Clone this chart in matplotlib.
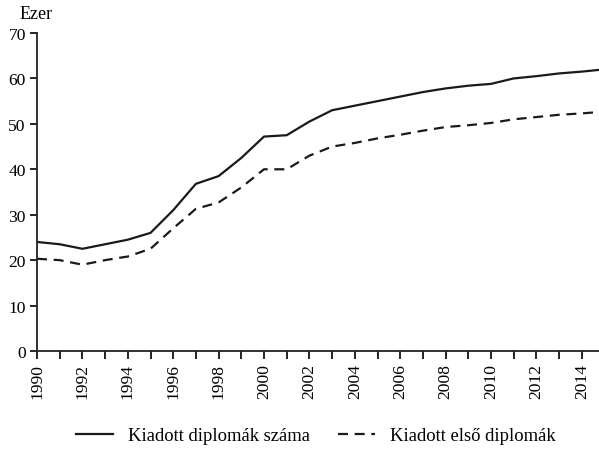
import matplotlib
matplotlib.use("Agg")
import matplotlib.pyplot as plt
from matplotlib.ticker import MultipleLocator

plt.rcParams['font.family'] = ['Liberation Serif', 'DejaVu Serif']
plt.rcParams['font.size'] = 13

years = list(range(1990, 2016))
diplomas_total = [24.0, 23.5, 22.5, 23.5, 24.5, 26.0, 31.0, 36.8, 38.5, 42.5,
                  47.2, 47.5, 50.5, 53.0, 54.0, 55.0, 56.0, 57.0, 57.8, 58.4,
                  58.8, 60.0, 60.5, 61.1, 61.5, 62.0]
diplomas_first = [20.3, 20.0, 19.0, 20.0, 20.8, 22.5, 27.0, 31.3, 32.7, 36.0,
                  40.0, 40.0, 43.0, 45.0, 45.8, 46.8, 47.6, 48.5, 49.3, 49.7,
                  50.2, 51.0, 51.5, 52.0, 52.3, 52.7]
labels = ['Kiadott diplomák száma', 'Kiadott első diplomák']

fig = plt.figure(figsize=(5.99, 4.52), dpi=100)
ax = fig.add_axes([37 / 599, 1 - 352 / 452, 1 - 37 / 599, (352 - 34) / 452])

ax.plot(years, diplomas_total, color='#1a1a1a', lw=1.6, label=labels[0])
ax.plot(years, diplomas_first, color='#1a1a1a', lw=1.6, ls=(0, (4.5, 3)), label=labels[1])

ax.set_xlim(1990, 1990 + (599 - 37) / 22.7)
ax.set_ylim(0, 70)
ax.xaxis.set_major_locator(MultipleLocator(2))
ax.xaxis.set_minor_locator(MultipleLocator(1))
ax.yaxis.set_major_locator(MultipleLocator(10))
ax.tick_params(axis='x', which='both', direction='out', length=6, width=1.2,
               rotation=90, pad=3, labelsize=12.6)
ax.tick_params(axis='y', direction='out', length=5, width=1.2, pad=3, labelsize=12.6)
for side in ['top', 'right']:
    ax.spines[side].set_visible(False)
for side in ['left', 'bottom']:
    ax.spines[side].set_linewidth(1.3)
    ax.spines[side].set_color('#222222')

fig.text(20 / 599, 1 - 19 / 452, 'Ezer', ha='left', va='baseline')

fig.legend(loc='center', bbox_to_anchor=(0.527, 0.034), ncol=2, frameon=False,
           fontsize=13.4, handlelength=2.0, columnspacing=1.5, handletextpad=0.8)

fig.savefig('out.png', dpi=100)
